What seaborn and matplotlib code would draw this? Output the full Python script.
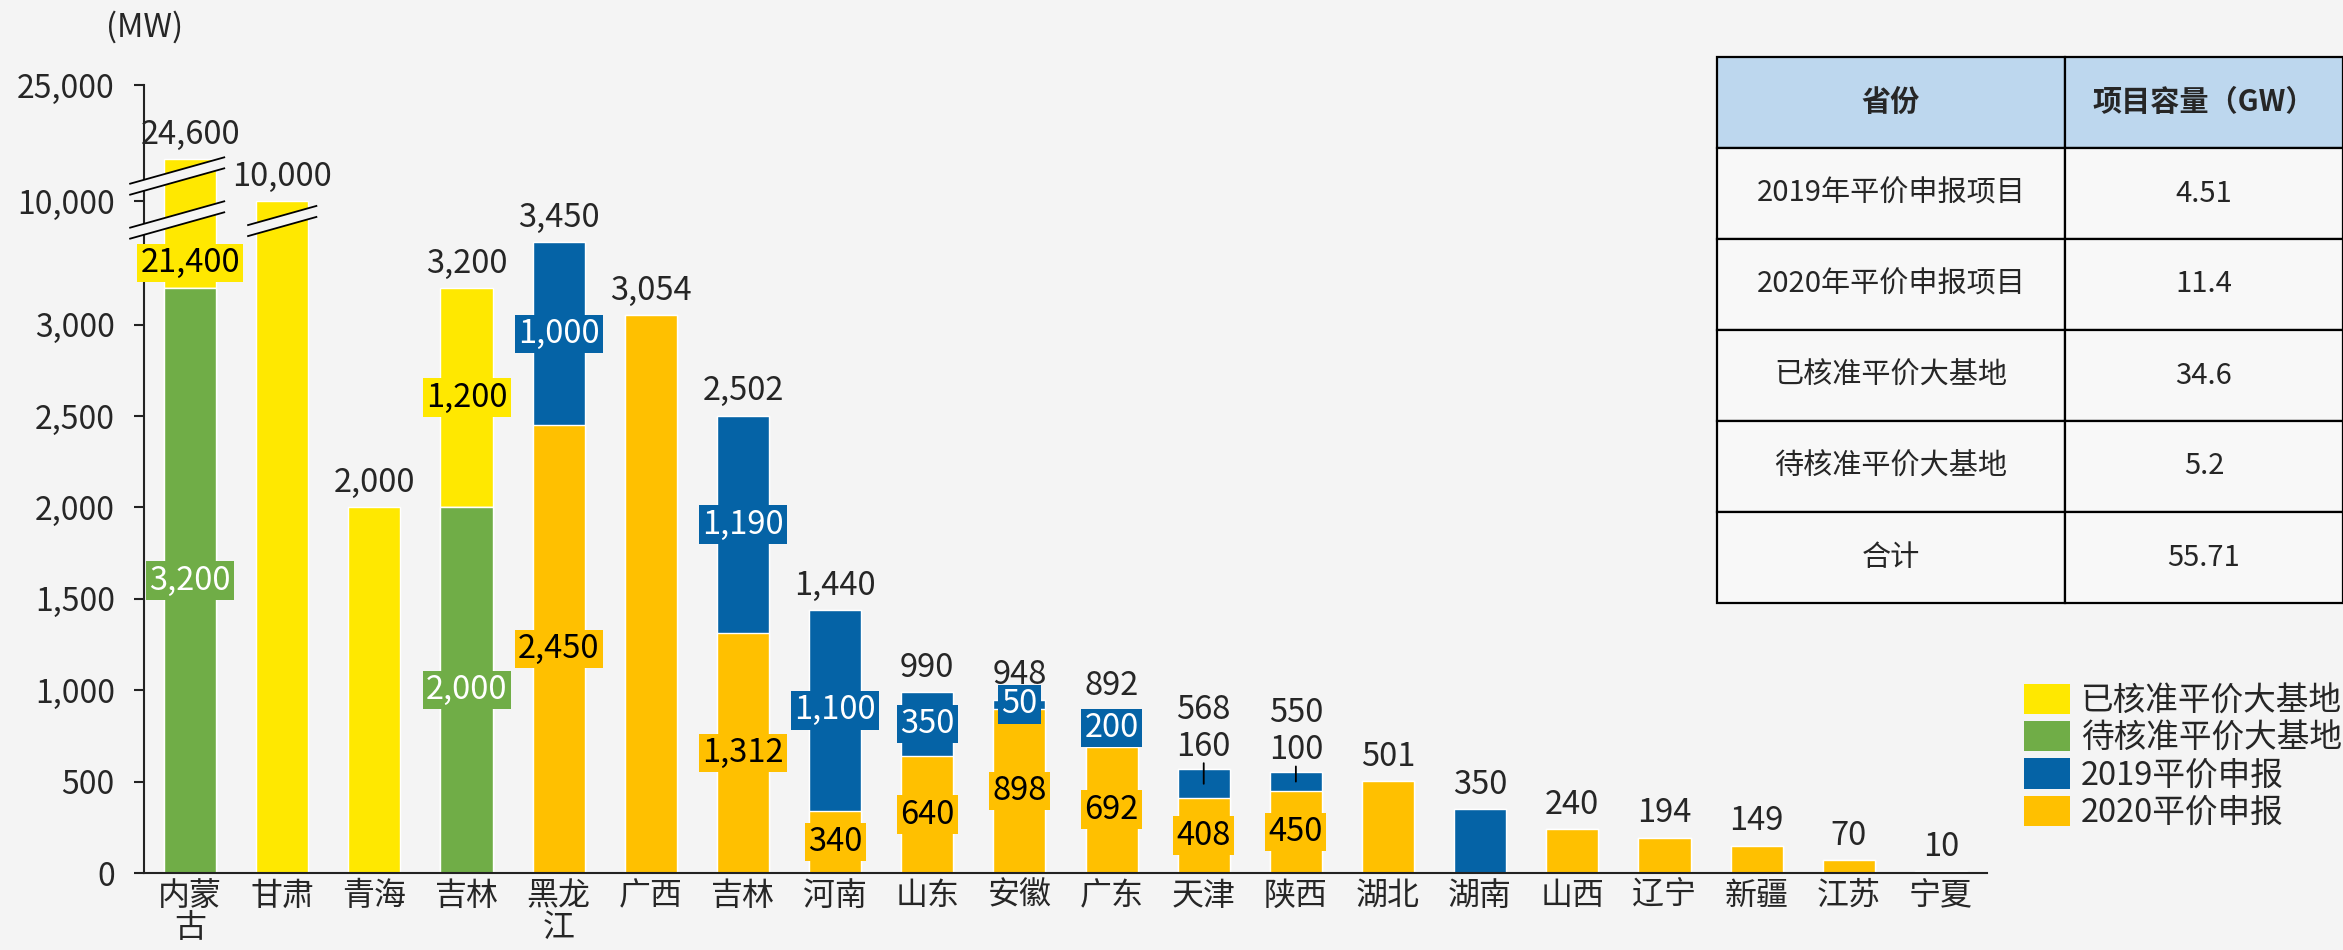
import numpy as np
import pandas as pd
import matplotlib
matplotlib.use("Agg")
import matplotlib.pyplot as plt
import matplotlib.transforms as mtransforms
from matplotlib.patches import Patch, Rectangle, Polygon
import seaborn as sns

# ---- data (MW) ----
provinces = ['内蒙\n古', '甘肃', '青海', '吉林', '黑龙\n江', '广西', '吉林', '河南', '山东', '安徽',
             '广东', '天津', '陕西', '湖北', '湖南', '山西', '辽宁', '新疆', '江苏', '宁夏']
approved = [21400, 10000, 2000, 1200, 0, 0, 0, 0, 0, 0, 0, 0, 0, 0, 0, 0, 0, 0, 0, 0]
pending = [3200, 0, 0, 2000, 0, 0, 0, 0, 0, 0, 0, 0, 0, 0, 0, 0, 0, 0, 0, 0]
apply_2019 = [0, 0, 0, 0, 1000, 0, 1190, 1100, 350, 50, 200, 160, 100, 0, 350, 0, 0, 0, 0, 10]
apply_2020 = [0, 0, 0, 0, 2450, 3054, 1312, 340, 640, 898, 692, 408, 450, 501, 0, 240, 194, 149, 70, 0]

series_labels = ['已核准平价大基地', '待核准平价大基地', '2019平价申报', '2020平价申报']
c_approved, c_pending, c_2019, c_2020 = '#FFE800', '#70AD47', '#0563A6', '#FFC000'

yticks = [0, 500, 1000, 1500, 2000, 2500, 3000, 10000, 25000]

table_header = ['省份', '项目容量（GW）']
table_items = ['2019年平价申报项目', '2020年平价申报项目', '已核准平价大基地', '待核准平价大基地', '合计']
table_values = ['4.51', '11.4', '34.6', '5.2', '55.71']

# broken y axis: linear up to 3500, then compressed
break_vals = [0, 3500, 10000, 24600, 25000]
break_pos = [0, 3500, 3676, 3906, 4311]


def fwd(v):
    return np.interp(v, break_vals, break_pos)


def inv(p):
    return np.interp(p, break_pos, break_vals)


n = len(provinces)
df = pd.DataFrame({'pos': range(n), 'pending': pending, 'a2020': apply_2020,
                   'a2019': apply_2019, 'approved': approved})
df['cum_pending'] = df['pending']
df['cum_2020'] = df['cum_pending'] + df['a2020']
df['cum_2019'] = df['cum_2020'] + df['a2019']
df['cum_all'] = df['cum_2019'] + df['approved']

sns.set_style('ticks')
plt.rcParams['font.family'] = ['Noto Sans CJK SC', 'DejaVu Sans']

bg = '#F4F4F4'
fig = plt.figure(figsize=(23.43, 9.5), dpi=100, facecolor=bg)
ax = fig.add_axes([144 / 2343, 77 / 950, 1843 / 2343, 788 / 950])
ax.patch.set_alpha(0)

# stacked bars: draw cumulative heights from the top layer down
for col, color in [('cum_all', c_approved), ('cum_2019', c_2019),
                   ('cum_2020', c_2020), ('cum_pending', c_pending)]:
    sns.barplot(data=df, x='pos', y=col, color=color, saturation=1, width=0.565,
                errorbar=None, ax=ax)

ax.set_yscale('function', functions=(fwd, inv))
ax.set_ylim(0, 25000)
ax.set_xlim(-0.5, n - 0.5)
ax.set_yticks(yticks)
ax.set_yticklabels([f'{v:,}' for v in yticks])
ax.set_xticks(range(n))
ax.set_xticklabels(provinces, linespacing=1.0)
ax.set_xlabel('')
ax.set_ylabel('')
ax.tick_params(axis='y', labelsize=23, length=7, width=1.5, pad=14, color='#222222')
ax.tick_params(axis='x', labelsize=23, length=0, pad=5)
for s in ['top', 'right']:
    ax.spines[s].set_visible(False)
for s in ['left', 'bottom']:
    ax.spines[s].set_linewidth(1.5)
    ax.spines[s].set_color('#222222')


def y_px(v):
    return ax.transData.transform((0, v))[1]


def y_data(px):
    return ax.transData.inverted().transform((0, px))[1]


# value labels
layers = [(pending, c_pending, 'white'), (apply_2020, c_2020, 'black'),
          (apply_2019, c_2019, 'white'), (approved, c_approved, 'black')]
leader_bars = [11, 12]
for i in range(n):
    vals = [arr[i] for arr, _, _ in layers]
    total = sum(vals)
    nseg = sum(v > 0 for v in vals)
    if i in leader_bars:
        ax.annotate(f'{total:,}', xy=(i, total), xytext=(0, 42.5), textcoords='offset points',
                    ha='center', va='center', fontsize=23.5)
    else:
        ax.annotate(f'{total:,}', xy=(i, total), xytext=(0, 17.5), textcoords='offset points',
                    ha='center', va='center', fontsize=23.5)
    if nseg < 2:
        continue
    bottom = 0
    for arr, color, tcolor in layers:
        v = arr[i]
        if v == 0:
            continue
        top = bottom + v
        box = dict(boxstyle='square,pad=0.1', fc=color, ec='none')
        if i in leader_bars and arr is apply_2019:
            mid = y_data((y_px(bottom) + y_px(top)) / 2)
            ax.text(i, y_data(y_px(top) + 22), f'{v:,}', ha='center', va='center', fontsize=23.5)
            ax.annotate('', xy=(i, mid), xytext=(i, y_data(y_px(top) + 6)),
                        arrowprops=dict(arrowstyle='-', lw=1.3, color='black',
                                        shrinkA=0, shrinkB=0))
        elif top > 3500:
            ax.text(i, y_data(y_px(bottom) + 25), f'{v:,}', ha='center', va='center',
                    fontsize=23.5, color=tcolor, bbox=box, zorder=7)
        else:
            mid = y_data((y_px(bottom) + y_px(top)) / 2)
            ax.text(i, mid, f'{v:,}', ha='center', va='center', fontsize=23.5,
                    color=tcolor, bbox=box, zorder=7)
        bottom = top

# axis-break marks (white slanted bands with two black edges)
btrans = mtransforms.blended_transform_factory(ax.transData, ax.transAxes)
slope = 0.28 * 92.15 / 788
gap = 5.5 / 788


def break_mark(x0, x1, xc, yc):
    ya = yc + slope * (x0 - xc)
    yb = yc + slope * (x1 - xc)
    ax.add_patch(Polygon([(x0, ya - gap), (x1, yb - gap), (x1, yb + gap), (x0, ya + gap)],
                         closed=True, fc=bg, ec='none', transform=btrans, zorder=6,
                         clip_on=False))
    for d in (-gap, gap):
        ax.plot([x0, x1], [ya + d, yb + d], color='black', lw=1.3, transform=btrans,
                zorder=6.5, clip_on=False, solid_capstyle='butt')


break_mark(-0.66, 0.38, -0.14, 0.8845)
break_mark(-0.66, 0.38, -0.14, 0.8287)
break_mark(0.62, 1.38, 1.0, 0.8274)

fig.text(145 / 2343, 1 - 27 / 950, '(MW)', ha='center', va='center', fontsize=23.5)

# legend
handles = [Patch(fc=c, ec='none') for c in [c_approved, c_pending, c_2019, c_2020]]
fig.legend(handles, series_labels, loc='upper left', bbox_to_anchor=(2024 / 2343, 1 - 684 / 950),
           frameon=False, fontsize=23.5, handlelength=1.4, handleheight=1.05,
           handletextpad=0.35, labelspacing=0.12, borderpad=0, borderaxespad=0)

# summary table
tax = fig.add_axes([1717 / 2343, (950 - 603) / 950, (2343 - 1717) / 2343, (603 - 57) / 950])
tax.set_xlim(0, 1)
tax.set_ylim(6, 0)
tax.axis('off')
split = 0.556
rows = [table_header] + [[a, b] for a, b in zip(table_items, table_values)]
for r, (left_txt, right_txt) in enumerate(rows):
    fc = '#BDD7EE' if r == 0 else '#F8F8F8'
    weight = 'bold' if r == 0 else 'normal'
    for x0, w, txt in [(0, split, left_txt), (split, 1 - split, right_txt)]:
        tax.add_patch(Rectangle((x0, r), w, 1, fc=fc, ec='black', lw=1.6, clip_on=False))
        tax.text(x0 + w / 2, r + 0.5, txt, ha='center', va='center', fontsize=21,
                 fontweight=weight)

fig.savefig('out.png', dpi=100, facecolor=bg)
